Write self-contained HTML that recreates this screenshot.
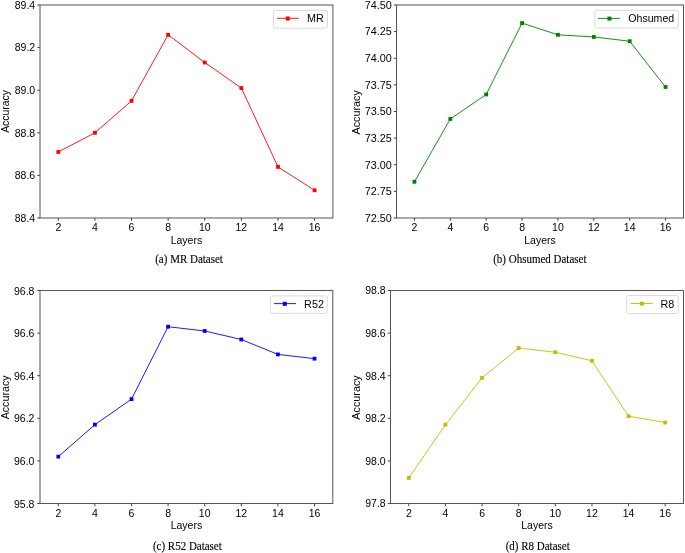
<!DOCTYPE html>
<html><head><meta charset="utf-8"><style>
html,body{margin:0;padding:0;background:#fff;}
body{width:685px;height:553px;overflow:hidden;}
svg{display:block;}
text{filter:grayscale(1);}
</style></head><body><svg width="685" height="553" viewBox="0 0 685 553" font-family='"Liberation Sans", sans-serif' font-size="10.5" fill="#000"><g><rect x="40" y="5" width="292.90" height="213.00" fill="none" stroke="#555" stroke-width="1"/><polyline points="58.31,151.97 94.92,132.80 131.53,100.85 168.14,34.82 204.76,62.51 241.37,88.07 277.98,166.88 314.59,190.31" fill="none" stroke="#ff0000" stroke-width="0.9"/><rect x="56.41" y="150.07" width="3.8" height="3.8" fill="#ff0000"/><rect x="93.02" y="130.90" width="3.8" height="3.8" fill="#ff0000"/><rect x="129.63" y="98.95" width="3.8" height="3.8" fill="#ff0000"/><rect x="166.24" y="32.92" width="3.8" height="3.8" fill="#ff0000"/><rect x="202.86" y="60.61" width="3.8" height="3.8" fill="#ff0000"/><rect x="239.47" y="86.17" width="3.8" height="3.8" fill="#ff0000"/><rect x="276.08" y="164.98" width="3.8" height="3.8" fill="#ff0000"/><rect x="312.69" y="188.41" width="3.8" height="3.8" fill="#ff0000"/><line x1="58.31" y1="218" x2="58.31" y2="220.80" stroke="#444" stroke-width="1"/><text x="58.31" y="231.20" text-anchor="middle">2</text><line x1="94.92" y1="218" x2="94.92" y2="220.80" stroke="#444" stroke-width="1"/><text x="94.92" y="231.20" text-anchor="middle">4</text><line x1="131.53" y1="218" x2="131.53" y2="220.80" stroke="#444" stroke-width="1"/><text x="131.53" y="231.20" text-anchor="middle">6</text><line x1="168.14" y1="218" x2="168.14" y2="220.80" stroke="#444" stroke-width="1"/><text x="168.14" y="231.20" text-anchor="middle">8</text><line x1="204.76" y1="218" x2="204.76" y2="220.80" stroke="#444" stroke-width="1"/><text x="204.76" y="231.20" text-anchor="middle">10</text><line x1="241.37" y1="218" x2="241.37" y2="220.80" stroke="#444" stroke-width="1"/><text x="241.37" y="231.20" text-anchor="middle">12</text><line x1="277.98" y1="218" x2="277.98" y2="220.80" stroke="#444" stroke-width="1"/><text x="277.98" y="231.20" text-anchor="middle">14</text><line x1="314.59" y1="218" x2="314.59" y2="220.80" stroke="#444" stroke-width="1"/><text x="314.59" y="231.20" text-anchor="middle">16</text><line x1="37.30" y1="218.00" x2="40" y2="218.00" stroke="#444" stroke-width="1"/><text x="35.20" y="221.80" text-anchor="end">88.4</text><line x1="37.30" y1="175.40" x2="40" y2="175.40" stroke="#444" stroke-width="1"/><text x="35.20" y="179.20" text-anchor="end">88.6</text><line x1="37.30" y1="132.80" x2="40" y2="132.80" stroke="#444" stroke-width="1"/><text x="35.20" y="136.60" text-anchor="end">88.8</text><line x1="37.30" y1="90.20" x2="40" y2="90.20" stroke="#444" stroke-width="1"/><text x="35.20" y="94.00" text-anchor="end">89.0</text><line x1="37.30" y1="47.60" x2="40" y2="47.60" stroke="#444" stroke-width="1"/><text x="35.20" y="51.40" text-anchor="end">89.2</text><line x1="37.30" y1="5.00" x2="40" y2="5.00" stroke="#444" stroke-width="1"/><text x="35.20" y="8.80" text-anchor="end">89.4</text><text x="186.45" y="243.70" text-anchor="middle">Layers</text><text transform="translate(9.20,111.50) rotate(-90)" text-anchor="middle" font-size="10.4">Accuracy</text><text transform="translate(155.20,263.10) scale(1,1.12)" font-family='"Liberation Serif", serif' font-size="11" stroke="#000" stroke-width="0.2" stroke-opacity="0.6">(a) MR Dataset</text><rect x="273.40" y="10.40" width="54.00" height="17.80" rx="1.8" fill="#fff" stroke="#d0d0d0" stroke-width="0.8"/><line x1="276.9" y1="18.3" x2="298.9" y2="18.3" stroke="#ff0000" stroke-width="0.9"/><rect x="285.80" y="16.50" width="4" height="4" fill="#ff0000"/><text x="306.90" y="22.10" font-size="10.8">MR</text></g><g><rect x="396.5" y="5" width="287.00" height="213.00" fill="none" stroke="#555" stroke-width="1"/><polyline points="414.44,181.79 450.31,118.95 486.19,94.46 522.06,23.11 557.94,34.82 593.81,36.95 629.69,41.21 665.56,87.00" fill="none" stroke="#008000" stroke-width="0.9"/><rect x="412.54" y="179.89" width="3.8" height="3.8" fill="#008000"/><rect x="448.41" y="117.05" width="3.8" height="3.8" fill="#008000"/><rect x="484.29" y="92.56" width="3.8" height="3.8" fill="#008000"/><rect x="520.16" y="21.21" width="3.8" height="3.8" fill="#008000"/><rect x="556.04" y="32.92" width="3.8" height="3.8" fill="#008000"/><rect x="591.91" y="35.05" width="3.8" height="3.8" fill="#008000"/><rect x="627.79" y="39.31" width="3.8" height="3.8" fill="#008000"/><rect x="663.66" y="85.10" width="3.8" height="3.8" fill="#008000"/><line x1="414.44" y1="218" x2="414.44" y2="220.80" stroke="#444" stroke-width="1"/><text x="414.44" y="231.20" text-anchor="middle">2</text><line x1="450.31" y1="218" x2="450.31" y2="220.80" stroke="#444" stroke-width="1"/><text x="450.31" y="231.20" text-anchor="middle">4</text><line x1="486.19" y1="218" x2="486.19" y2="220.80" stroke="#444" stroke-width="1"/><text x="486.19" y="231.20" text-anchor="middle">6</text><line x1="522.06" y1="218" x2="522.06" y2="220.80" stroke="#444" stroke-width="1"/><text x="522.06" y="231.20" text-anchor="middle">8</text><line x1="557.94" y1="218" x2="557.94" y2="220.80" stroke="#444" stroke-width="1"/><text x="557.94" y="231.20" text-anchor="middle">10</text><line x1="593.81" y1="218" x2="593.81" y2="220.80" stroke="#444" stroke-width="1"/><text x="593.81" y="231.20" text-anchor="middle">12</text><line x1="629.69" y1="218" x2="629.69" y2="220.80" stroke="#444" stroke-width="1"/><text x="629.69" y="231.20" text-anchor="middle">14</text><line x1="665.56" y1="218" x2="665.56" y2="220.80" stroke="#444" stroke-width="1"/><text x="665.56" y="231.20" text-anchor="middle">16</text><line x1="393.80" y1="218.00" x2="396.5" y2="218.00" stroke="#444" stroke-width="1"/><text x="391.70" y="221.80" text-anchor="end" font-size="10.8">72.50</text><line x1="393.80" y1="191.38" x2="396.5" y2="191.38" stroke="#444" stroke-width="1"/><text x="391.70" y="195.18" text-anchor="end" font-size="10.8">72.75</text><line x1="393.80" y1="164.75" x2="396.5" y2="164.75" stroke="#444" stroke-width="1"/><text x="391.70" y="168.55" text-anchor="end" font-size="10.8">73.00</text><line x1="393.80" y1="138.12" x2="396.5" y2="138.12" stroke="#444" stroke-width="1"/><text x="391.70" y="141.93" text-anchor="end" font-size="10.8">73.25</text><line x1="393.80" y1="111.50" x2="396.5" y2="111.50" stroke="#444" stroke-width="1"/><text x="391.70" y="115.30" text-anchor="end" font-size="10.8">73.50</text><line x1="393.80" y1="84.88" x2="396.5" y2="84.88" stroke="#444" stroke-width="1"/><text x="391.70" y="88.67" text-anchor="end" font-size="10.8">73.75</text><line x1="393.80" y1="58.25" x2="396.5" y2="58.25" stroke="#444" stroke-width="1"/><text x="391.70" y="62.05" text-anchor="end" font-size="10.8">74.00</text><line x1="393.80" y1="31.62" x2="396.5" y2="31.62" stroke="#444" stroke-width="1"/><text x="391.70" y="35.42" text-anchor="end" font-size="10.8">74.25</text><line x1="393.80" y1="5.00" x2="396.5" y2="5.00" stroke="#444" stroke-width="1"/><text x="391.70" y="8.80" text-anchor="end" font-size="10.8">74.50</text><text x="540.00" y="243.70" text-anchor="middle">Layers</text><text transform="translate(359.90,112.30) rotate(-90)" text-anchor="middle" font-size="10.8">Accuracy</text><text transform="translate(493.20,263.10) scale(1,1.12)" font-family='"Liberation Serif", serif' font-size="11" stroke="#000" stroke-width="0.2" stroke-opacity="0.6">(b) Ohsumed Dataset</text><rect x="594.80" y="10.30" width="83.50" height="17.60" rx="1.8" fill="#fff" stroke="#d0d0d0" stroke-width="0.8"/><line x1="598.1" y1="18.4" x2="620.0" y2="18.4" stroke="#008000" stroke-width="0.9"/><rect x="607.40" y="16.60" width="4" height="4" fill="#008000"/><text x="628.30" y="22.40" font-size="10.6">Ohsumed</text></g><g><rect x="40" y="290.5" width="292.80" height="213.00" fill="none" stroke="#555" stroke-width="1"/><polyline points="58.30,456.64 94.90,424.69 131.50,399.13 168.10,326.71 204.70,330.97 241.30,339.49 277.90,354.40 314.50,358.66" fill="none" stroke="#0000ff" stroke-width="0.9"/><rect x="56.40" y="454.74" width="3.8" height="3.8" fill="#0000ff"/><rect x="93.00" y="422.79" width="3.8" height="3.8" fill="#0000ff"/><rect x="129.60" y="397.23" width="3.8" height="3.8" fill="#0000ff"/><rect x="166.20" y="324.81" width="3.8" height="3.8" fill="#0000ff"/><rect x="202.80" y="329.07" width="3.8" height="3.8" fill="#0000ff"/><rect x="239.40" y="337.59" width="3.8" height="3.8" fill="#0000ff"/><rect x="276.00" y="352.50" width="3.8" height="3.8" fill="#0000ff"/><rect x="312.60" y="356.76" width="3.8" height="3.8" fill="#0000ff"/><line x1="58.30" y1="503.5" x2="58.30" y2="506.30" stroke="#444" stroke-width="1"/><text x="58.30" y="516.70" text-anchor="middle">2</text><line x1="94.90" y1="503.5" x2="94.90" y2="506.30" stroke="#444" stroke-width="1"/><text x="94.90" y="516.70" text-anchor="middle">4</text><line x1="131.50" y1="503.5" x2="131.50" y2="506.30" stroke="#444" stroke-width="1"/><text x="131.50" y="516.70" text-anchor="middle">6</text><line x1="168.10" y1="503.5" x2="168.10" y2="506.30" stroke="#444" stroke-width="1"/><text x="168.10" y="516.70" text-anchor="middle">8</text><line x1="204.70" y1="503.5" x2="204.70" y2="506.30" stroke="#444" stroke-width="1"/><text x="204.70" y="516.70" text-anchor="middle">10</text><line x1="241.30" y1="503.5" x2="241.30" y2="506.30" stroke="#444" stroke-width="1"/><text x="241.30" y="516.70" text-anchor="middle">12</text><line x1="277.90" y1="503.5" x2="277.90" y2="506.30" stroke="#444" stroke-width="1"/><text x="277.90" y="516.70" text-anchor="middle">14</text><line x1="314.50" y1="503.5" x2="314.50" y2="506.30" stroke="#444" stroke-width="1"/><text x="314.50" y="516.70" text-anchor="middle">16</text><line x1="37.30" y1="503.50" x2="40" y2="503.50" stroke="#444" stroke-width="1"/><text x="34.40" y="507.60" text-anchor="end">95.8</text><line x1="37.30" y1="460.90" x2="40" y2="460.90" stroke="#444" stroke-width="1"/><text x="34.40" y="465.00" text-anchor="end">96.0</text><line x1="37.30" y1="418.30" x2="40" y2="418.30" stroke="#444" stroke-width="1"/><text x="34.40" y="422.40" text-anchor="end">96.2</text><line x1="37.30" y1="375.70" x2="40" y2="375.70" stroke="#444" stroke-width="1"/><text x="34.40" y="379.80" text-anchor="end">96.4</text><line x1="37.30" y1="333.10" x2="40" y2="333.10" stroke="#444" stroke-width="1"/><text x="34.40" y="337.20" text-anchor="end">96.6</text><line x1="37.30" y1="290.50" x2="40" y2="290.50" stroke="#444" stroke-width="1"/><text x="34.40" y="294.60" text-anchor="end">96.8</text><text x="186.40" y="529.20" text-anchor="middle">Layers</text><text transform="translate(9.10,397.40) rotate(-90)" text-anchor="middle" font-size="10.7">Accuracy</text><text transform="translate(152.90,549.60) scale(1,1.12)" font-family='"Liberation Serif", serif' font-size="11" stroke="#000" stroke-width="0.2" stroke-opacity="0.6">(c) R52 Dataset</text><rect x="270.40" y="295.90" width="56.80" height="17.50" rx="1.8" fill="#fff" stroke="#d0d0d0" stroke-width="0.8"/><line x1="274.0" y1="303.6" x2="296.0" y2="303.6" stroke="#0000ff" stroke-width="0.9"/><rect x="282.80" y="301.80" width="4" height="4" fill="#0000ff"/><text x="304.10" y="308.20" font-size="10.8">R52</text></g><g><rect x="390.5" y="290.5" width="293.00" height="213.00" fill="none" stroke="#555" stroke-width="1"/><polyline points="408.81,477.94 445.44,424.69 482.06,377.83 518.69,348.01 555.31,352.27 591.94,360.79 628.56,416.17 665.19,422.56" fill="none" stroke="#bfbf00" stroke-width="0.9"/><rect x="406.91" y="476.04" width="3.8" height="3.8" fill="#bfbf00"/><rect x="443.54" y="422.79" width="3.8" height="3.8" fill="#bfbf00"/><rect x="480.16" y="375.93" width="3.8" height="3.8" fill="#bfbf00"/><rect x="516.79" y="346.11" width="3.8" height="3.8" fill="#bfbf00"/><rect x="553.41" y="350.37" width="3.8" height="3.8" fill="#bfbf00"/><rect x="590.04" y="358.89" width="3.8" height="3.8" fill="#bfbf00"/><rect x="626.66" y="414.27" width="3.8" height="3.8" fill="#bfbf00"/><rect x="663.29" y="420.66" width="3.8" height="3.8" fill="#bfbf00"/><line x1="408.81" y1="503.5" x2="408.81" y2="506.30" stroke="#444" stroke-width="1"/><text x="408.81" y="516.70" text-anchor="middle">2</text><line x1="445.44" y1="503.5" x2="445.44" y2="506.30" stroke="#444" stroke-width="1"/><text x="445.44" y="516.70" text-anchor="middle">4</text><line x1="482.06" y1="503.5" x2="482.06" y2="506.30" stroke="#444" stroke-width="1"/><text x="482.06" y="516.70" text-anchor="middle">6</text><line x1="518.69" y1="503.5" x2="518.69" y2="506.30" stroke="#444" stroke-width="1"/><text x="518.69" y="516.70" text-anchor="middle">8</text><line x1="555.31" y1="503.5" x2="555.31" y2="506.30" stroke="#444" stroke-width="1"/><text x="555.31" y="516.70" text-anchor="middle">10</text><line x1="591.94" y1="503.5" x2="591.94" y2="506.30" stroke="#444" stroke-width="1"/><text x="591.94" y="516.70" text-anchor="middle">12</text><line x1="628.56" y1="503.5" x2="628.56" y2="506.30" stroke="#444" stroke-width="1"/><text x="628.56" y="516.70" text-anchor="middle">14</text><line x1="665.19" y1="503.5" x2="665.19" y2="506.30" stroke="#444" stroke-width="1"/><text x="665.19" y="516.70" text-anchor="middle">16</text><line x1="387.80" y1="503.50" x2="390.5" y2="503.50" stroke="#444" stroke-width="1"/><text x="385.70" y="507.30" text-anchor="end">97.8</text><line x1="387.80" y1="460.90" x2="390.5" y2="460.90" stroke="#444" stroke-width="1"/><text x="385.70" y="464.70" text-anchor="end">98.0</text><line x1="387.80" y1="418.30" x2="390.5" y2="418.30" stroke="#444" stroke-width="1"/><text x="385.70" y="422.10" text-anchor="end">98.2</text><line x1="387.80" y1="375.70" x2="390.5" y2="375.70" stroke="#444" stroke-width="1"/><text x="385.70" y="379.50" text-anchor="end">98.4</text><line x1="387.80" y1="333.10" x2="390.5" y2="333.10" stroke="#444" stroke-width="1"/><text x="385.70" y="336.90" text-anchor="end">98.6</text><line x1="387.80" y1="290.50" x2="390.5" y2="290.50" stroke="#444" stroke-width="1"/><text x="385.70" y="294.30" text-anchor="end">98.8</text><text x="537.00" y="529.20" text-anchor="middle">Layers</text><text transform="translate(359.80,397.50) rotate(-90)" text-anchor="middle" font-size="10.8">Accuracy</text><text transform="translate(505.70,549.60) scale(1,1.12)" font-family='"Liberation Serif", serif' font-size="11" stroke="#000" stroke-width="0.2" stroke-opacity="0.6">(d) R8 Dataset</text><rect x="626.70" y="295.50" width="51.60" height="18.10" rx="1.8" fill="#fff" stroke="#d0d0d0" stroke-width="0.8"/><line x1="630.6" y1="303.5" x2="652.7" y2="303.5" stroke="#bfbf00" stroke-width="0.9"/><rect x="639.80" y="301.70" width="4" height="4" fill="#bfbf00"/><text x="660.50" y="308.00" font-size="10.8">R8</text></g></svg></body></html>
